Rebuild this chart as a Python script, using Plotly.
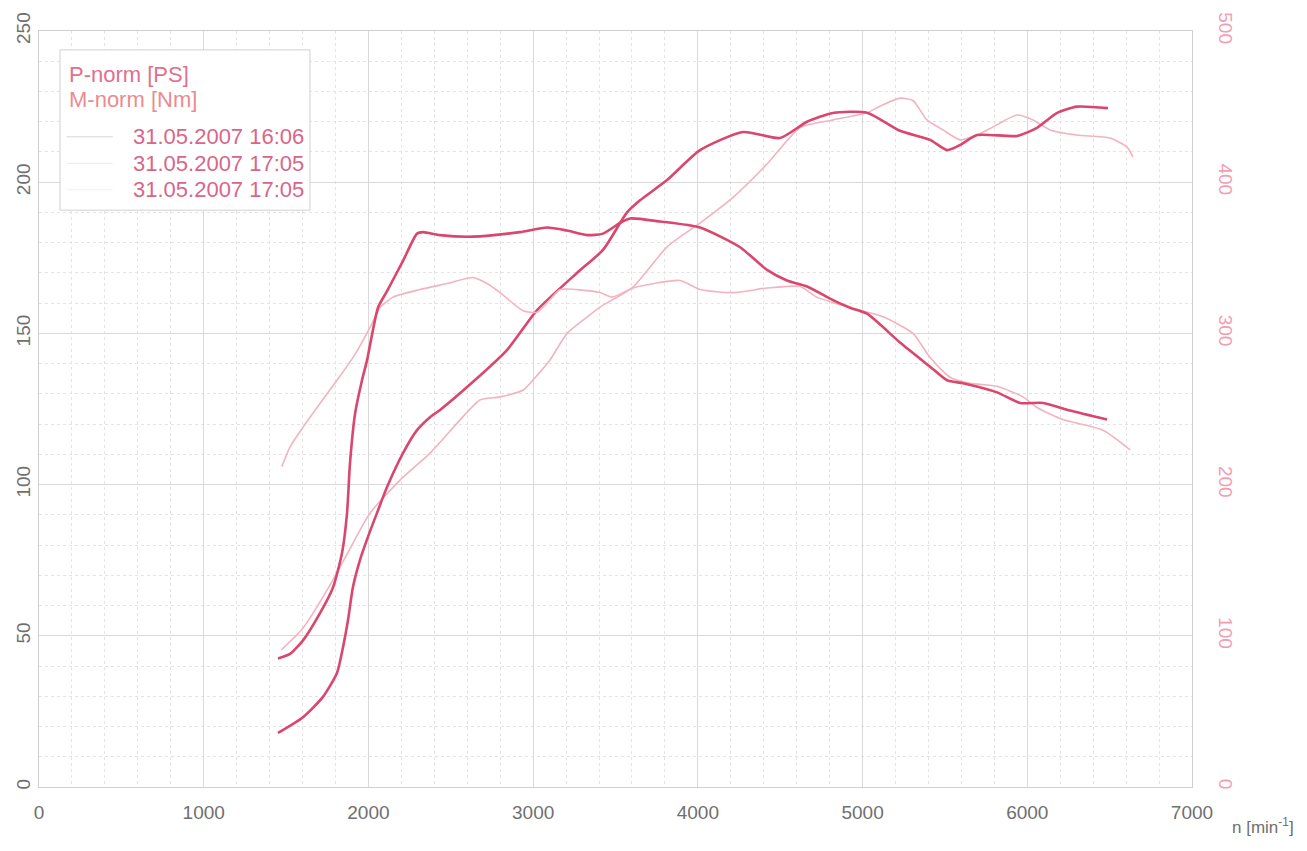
import plotly.graph_objects as go

# ---------------- data ----------------
# run 31.05.2007 17:05 (dark, thick)
rpm_p_dark = [1451, 1603, 1724, 1809, 1846, 1876, 1906, 1949, 1997, 2052, 2113, 2210, 2295,
              2374, 2435, 2635, 2841, 3024, 3266, 3424, 3570, 3649, 3813, 4013, 4274, 4499, 4663,
              4820, 5027, 5227, 5410, 5513, 5592, 5695, 5938, 6059, 6181, 6302, 6490]
p_dark = [17.9, 23.1, 29.8, 37.7, 46.3, 55.2, 66.1, 75.1, 82.7, 90.6, 99.2, 110.4, 118.0,
          122.3, 124.7, 134.0, 144.5, 157.7, 170.0, 177.6, 190.0, 194.0, 200.7, 210.6, 216.6, 214.6, 220.0,
          222.9, 223.0, 217.0, 214.0, 210.6, 212.3, 215.6, 215.3, 218.0, 222.9, 225.0, 224.5]

rpm_m_dark = [1451, 1524, 1603, 1706, 1785, 1840, 1870, 1888, 1919, 1961, 1991, 2058, 2113, 2210,
              2295, 2331, 2435, 2635, 2920, 3084, 3206, 3327, 3424, 3527, 3588, 3770, 4013, 4256,
              4420, 4541, 4663, 4820, 4924, 5027, 5227, 5410, 5513, 5610, 5816, 5956, 6096,
              6260, 6484]
m_dark = [85, 88, 97, 115, 132, 155, 181, 214, 247, 269, 282, 317, 328, 348,
          366, 367, 365, 364, 367, 370, 368, 365, 366, 373, 376, 374, 370, 357,
          342, 335, 331, 322, 317, 313, 294, 278, 269, 267, 261, 254, 254,
          249, 243]

# run 31.05.2007 17:05 (second, overlapping the first)
rpm_p_dark2 = list(rpm_p_dark)
p_dark2 = list(p_dark)
rpm_m_dark2 = list(rpm_m_dark)
m_dark2 = list(m_dark)

# run 31.05.2007 16:06 (light, thin)
rpm_p_light = [1470, 1603, 1785, 1900, 2010, 2192, 2374, 2556, 2677, 2799, 2939, 2999,
               3102, 3206, 3327, 3406, 3606, 3813, 4013, 4214, 4420, 4620, 4820, 5027, 5120,
               5227, 5306, 5391, 5488, 5592, 5695, 5792, 5938, 6035, 6138, 6302, 6502, 6606, 6642]
p_light = [45.3, 52.6, 68.5, 80.0, 90.6, 101.5, 110.4, 121.4, 128.0, 129.0, 131.3, 134.6,
           141.2, 150.0, 155.4, 158.7, 165.3, 178.6, 186.5, 195.0, 206.0, 218.0, 220.6, 223.0, 225.5,
           227.8, 227.0, 220.6, 217.3, 214.0, 215.6, 218.3, 222.2, 220.6, 217.3, 215.6, 214.6, 211.6, 208.3]

rpm_m_light = [1475, 1524, 1603, 1688, 1809, 1906, 2010, 2070, 2149, 2313, 2477, 2635, 2720,
               2799, 2939, 3025, 3100, 3165, 3406, 3480, 3606, 3892, 4013, 4214, 4420, 4620,
               4723, 4924, 5124, 5306, 5410, 5531, 5652, 5816, 5974, 6059, 6217, 6460, 6624]
m_light = [212, 225, 238, 251, 269, 284, 304, 317, 324, 329, 333, 337, 333,
           327, 315, 314, 322, 329, 327, 324, 330, 335, 329, 327, 330, 331,
           324, 317, 311, 300, 284, 271, 267, 265, 258, 251, 243, 236, 223]

x_ticks = [0, 1000, 2000, 3000, 4000, 5000, 6000, 7000]
legend_header = ["P-norm [PS]", "M-norm [Nm]"]
legend_runs = ["31.05.2007 16:06", "31.05.2007 17:05", "31.05.2007 17:05"]

# ---------------- styles ----------------
c_dark = "#d9476e"
c_dark2 = "#e77d96"
c_light = "#f2b3c1"
grid_major = "#d9d9d9"
grid_minor = "#e4e4e4"
font_family = "Liberation Sans, Arial, sans-serif"

fig = go.Figure()

def add(x, y, color, width, axis):
    fig.add_trace(go.Scatter(x=x, y=y, mode="lines", yaxis=axis,
                             line=dict(color=color, width=width, shape="spline", smoothing=0.6),
                             hoverinfo="skip", showlegend=False))

add(rpm_p_light, p_light, c_light, 1.6, "y")
add(rpm_m_light, m_light, c_light, 1.6, "y2")
add(rpm_p_dark2, p_dark2, c_dark2, 1.2, "y")
add(rpm_m_dark2, m_dark2, c_dark2, 1.2, "y2")
add(rpm_p_dark, p_dark, c_dark, 2.6, "y")
add(rpm_m_dark, m_dark, c_dark, 2.6, "y2")

# page body adds an 8px margin, so the figure is sized to fit inside the window
fig.update_layout(
    width=1291, height=835,
    margin=dict(l=31, r=107, t=23, b=56),
    paper_bgcolor="white", plot_bgcolor="white",
    font=dict(family=font_family, size=19, color="#6f6f6f"),
    xaxis=dict(range=[0, 7000], tickvals=x_ticks, showgrid=True, gridcolor=grid_major, gridwidth=1,
               minor=dict(dtick=200, showgrid=True, gridcolor=grid_minor, griddash="dot"),
               showline=True, linecolor="#cfcfcf", mirror=True, zeroline=False, automargin=False,
               ticks="", ticklabelstandoff=8, tickfont=dict(size=19, color="#6f6f6f")),
    yaxis=dict(range=[0, 250], dtick=50, showgrid=True, gridcolor=grid_major, gridwidth=1,
               minor=dict(dtick=10, showgrid=True, gridcolor=grid_minor, griddash="dot"),
               showline=True, linecolor="#cfcfcf", mirror=True, zeroline=False, automargin=False,
               ticks="", tickangle=-90, ticklabelstandoff=0, tickfont=dict(size=19, color="#6f6f6f")),
    yaxis2=dict(range=[0, 500], dtick=100, overlaying="y", side="right", showgrid=False,
                zeroline=False, showline=False, ticks="", tickangle=90, ticklabelstandoff=22,
                automargin=False, tickfont=dict(size=19, color="#f29db2")),
)

# legend box (paper coords)
fig.add_shape(type="rect", xref="paper", yref="paper", x0=0.0182, x1=0.235, y0=0.763, y1=0.975,
              line=dict(color="#d0d0d0", width=1), fillcolor="white", layer="above")
header_colors = ["#e0708e", "#ea8c8f"]
header_y = [0.942, 0.909]
for txt, col, yy in zip(legend_header, header_colors, header_y):
    fig.add_annotation(text=txt, xref="paper", yref="paper", x=0.024, y=yy, xanchor="left",
                       yanchor="middle", showarrow=False, font=dict(size=22, color=col))
run_y = [0.860, 0.825, 0.790]
sample_colors = ["#d6d6d6", "#ececec", "#efefef"]
for txt, yy, sc in zip(legend_runs, run_y, sample_colors):
    fig.add_annotation(text=txt, xref="paper", yref="paper", x=0.232, y=yy, xanchor="right",
                       yanchor="middle", showarrow=False, font=dict(size=22, color="#d9668a"))
    fig.add_shape(type="line", xref="paper", yref="paper", x0=0.024, x1=0.064, y0=yy, y1=yy,
                  line=dict(color=sc, width=1), layer="above")

fig.add_annotation(text="n [min<sup>-1</sup>]", xref="paper", yref="paper", x=1.09, y=-0.052,
                   xanchor="right", yanchor="middle", showarrow=False,
                   font=dict(size=17, color="#6f6f6f"))

fig.write_html("out.html")
